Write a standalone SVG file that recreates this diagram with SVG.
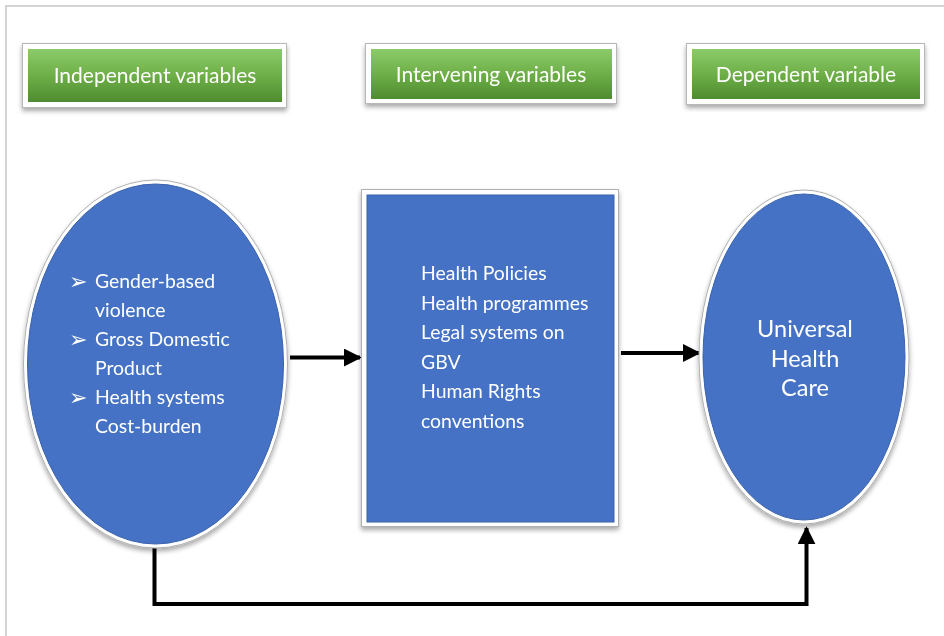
<svg xmlns="http://www.w3.org/2000/svg" width="944" height="636" viewBox="0 0 944 636">
  <defs>
    <linearGradient id="greenFill" x1="0" y1="0" x2="0" y2="1">
      <stop offset="0" stop-color="#8ccb6a"/>
      <stop offset="0.5" stop-color="#6eaf48"/>
      <stop offset="1" stop-color="#4f8c2f"/>
    </linearGradient>
    <filter id="softShadow" x="-10%" y="-10%" width="120%" height="125%">
      <feGaussianBlur in="SourceAlpha" stdDeviation="2.5"/>
      <feOffset dx="0" dy="3" result="blur"/>
      <feComponentTransfer><feFuncA type="linear" slope="0.35"/></feComponentTransfer>
      <feMerge><feMergeNode/><feMergeNode in="SourceGraphic"/></feMerge>
    </filter>
    <marker id="arrowHead" viewBox="0 0 10 10" refX="9" refY="5" markerWidth="4.5" markerHeight="4.5" markerUnits="strokeWidth" orient="auto">
      <path d="M0,0 L10,5 L0,10 z" fill="#000"/>
    </marker>
    <style>
      .frame { fill: #ffffff; stroke: #d3d3d3; stroke-width: 2; }
      .labelOuter { fill: #ffffff; stroke: #b8b8b8; stroke-width: 1; }
      .labelInner { fill: url(#greenFill); }
      .labelText { font-family: Lato, "Open Sans", sans-serif; font-size: 21px; fill: #ffffff; text-anchor: middle; }
      .nodeOuter { fill: #ffffff; stroke: #b0b0b0; stroke-width: 1; }
      .nodeFill { fill: #4472c4; stroke: #3a62ad; stroke-width: 1; }
      .bodyText { font-family: Lato, "Open Sans", sans-serif; font-size: 19.4px; fill: #ffffff; }
      .bullet { font-family: "DejaVu Sans", sans-serif; font-size: 22px; fill: #ffffff; }
      .centerText { font-family: Lato, "Open Sans", sans-serif; font-size: 23.5px; fill: #ffffff; text-anchor: middle; }
      .connector { fill: none; stroke: #000000; stroke-width: 4; }
    </style>
  </defs>

  <!-- page frame -->
  <rect x="0" y="0" width="944" height="636" fill="#ffffff"/>
  <rect class="frame" x="6" y="6" width="1000" height="1000"/>

  <!-- column headers -->
  <g id="header-independent" filter="url(#softShadow)">
    <rect class="labelOuter" x="22.5" y="43.5" width="264" height="64"/>
    <rect class="labelInner" x="28" y="49" width="254" height="53"/>
    <text class="labelText" x="155" y="83">Independent variables</text>
  </g>
  <g id="header-intervening" filter="url(#softShadow)">
    <rect class="labelOuter" x="365.5" y="43.5" width="251" height="60"/>
    <rect class="labelInner" x="371" y="49" width="241" height="50"/>
    <text class="labelText" x="491" y="82">Intervening variables</text>
  </g>
  <g id="header-dependent" filter="url(#softShadow)">
    <rect class="labelOuter" x="686.5" y="43.5" width="238" height="61"/>
    <rect class="labelInner" x="692" y="49" width="228" height="50"/>
    <text class="labelText" x="806" y="82">Dependent variable</text>
  </g>

  <!-- connectors -->
  <g id="connectors">
    <line class="connector" x1="290" y1="357.5" x2="360" y2="357.5" marker-end="url(#arrowHead)"/>
    <line class="connector" x1="621" y1="353" x2="699" y2="353" marker-end="url(#arrowHead)"/>
    <polyline class="connector" points="154.5,548 154.5,604 806.5,604 806.5,528" marker-end="url(#arrowHead)"/>
  </g>

  <!-- independent variables -->
  <g id="node-independent" filter="url(#softShadow)">
    <ellipse class="nodeOuter" cx="155.5" cy="364" rx="132" ry="184"/>
    <ellipse class="nodeFill" cx="155.5" cy="364" rx="128" ry="180"/>
    <text class="bullet" x="69" y="289">➢</text>
    <text class="bullet" x="69" y="347">➢</text>
    <text class="bullet" x="69" y="405">➢</text>
    <g class="bodyText">
      <text x="95" y="288">Gender-based</text>
      <text x="95" y="317">violence</text>
      <text x="95" y="346">Gross Domestic</text>
      <text x="95" y="375">Product</text>
      <text x="95" y="404">Health systems</text>
      <text x="95" y="433">Cost-burden</text>
    </g>
  </g>

  <!-- intervening variables -->
  <g id="node-intervening" filter="url(#softShadow)">
    <rect class="nodeOuter" x="361.5" y="189.5" width="257" height="337"/>
    <rect class="nodeFill" x="367" y="195" width="247" height="327"/>
    <g class="bodyText">
      <text x="421" y="280">Health Policies</text>
      <text x="421" y="310">Health programmes</text>
      <text x="421" y="339">Legal systems on</text>
      <text x="421" y="369">GBV</text>
      <text x="421" y="398">Human Rights</text>
      <text x="421" y="428">conventions</text>
    </g>
  </g>

  <!-- dependent variable -->
  <g id="node-dependent" filter="url(#softShadow)">
    <ellipse class="nodeOuter" cx="804" cy="357" rx="105" ry="167"/>
    <ellipse class="nodeFill" cx="804" cy="357" rx="101" ry="163"/>
    <g class="centerText">
      <text x="805" y="337">Universal</text>
      <text x="805" y="367">Health</text>
      <text x="805" y="396">Care</text>
    </g>
  </g>
</svg>
